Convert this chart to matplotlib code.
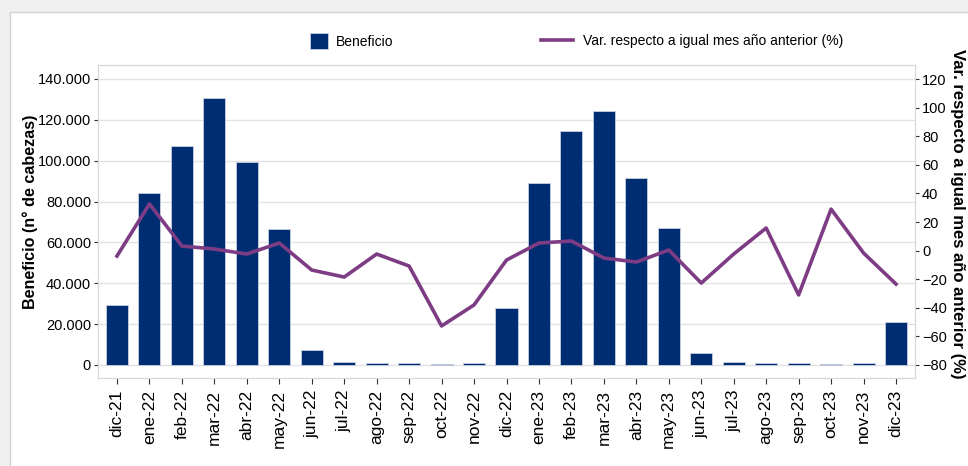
import matplotlib
matplotlib.use("Agg")
import matplotlib.pyplot as plt
from matplotlib.ticker import FuncFormatter, MultipleLocator
from matplotlib.patches import Rectangle
from matplotlib.lines import Line2D

plt.rcParams["font.family"] = ["Liberation Sans", "DejaVu Sans"]

months = ["dic-21", "ene-22", "feb-22", "mar-22", "abr-22", "may-22", "jun-22",
          "jul-22", "ago-22", "sep-22", "oct-22", "nov-22", "dic-22", "ene-23",
          "feb-23", "mar-23", "abr-23", "may-23", "jun-23", "jul-23", "ago-23",
          "sep-23", "oct-23", "nov-23", "dic-23"]
beneficio = [29400, 84200, 107300, 130700, 99400, 66600, 7300, 1500, 1000, 1200,
             400, 1200, 27900, 89100, 114500, 124300, 91500, 67000, 5900, 1300,
             1000, 800, 500, 1200, 21000]
variacion = [-3.8, 32.6, 3.2, 1.1, -2.4, 5.3, -13.6, -18.5, -2.4, -10.8,
             -52.7, -38.0, -6.6, 5.3, 6.7, -5.2, -8.0, 0.4, -22.7, -2.4,
             15.8, -31.0, 29.0, -1.7, -23.4]

BAR_COLOR = "#002d72"
LINE_COLOR = "#7d3c84"
GRID = "#e3e3e3"

fig = plt.figure(figsize=(9.68, 4.66), dpi=100, facecolor="#f0f0f0")
panel = Rectangle((10 / 968, -0.01), 1, 1.01 - 12 / 466, transform=fig.transFigure,
                  facecolor="white", edgecolor="#d4d4d4", linewidth=1, zorder=-10)
fig.add_artist(panel)

ax = fig.add_axes([98 / 968, 1 - 378 / 466, (915 - 98) / 968, (378 - 65) / 466])
ax.set_facecolor("none")
x = list(range(len(months)))
ax.bar(x, beneficio, width=0.68, color=BAR_COLOR, edgecolor="#c8d0e0", linewidth=0.6, zorder=2)
ax.set_xlim(-0.585, len(months) - 1 + 0.585)
ax.set_ylim(-6364, 146853)
ax.yaxis.set_major_locator(MultipleLocator(20000))
ax.yaxis.set_major_formatter(FuncFormatter(lambda v, p: f"{int(v):,}".replace(",", ".")))
ax.grid(axis="y", color=GRID, linewidth=1, zorder=0)
ax.set_axisbelow(True)
ax.set_xticks(x)
ax.set_xticklabels(months, rotation=90, fontsize=12.5)
ax.tick_params(axis="y", labelsize=10.5, length=3, color="#333333", pad=2)
ax.tick_params(axis="x", length=4.3, color="#333333", pad=4)
for s in ax.spines.values():
    s.set_color("#d9d9d9")
ax.set_ylabel("Beneficio (n° de cabezas)", fontsize=11.6, fontweight="bold", va="center")
ax.yaxis.set_label_coords((30 - 98) / 817, (378 - 211.5) / 313)

ax2 = ax.twinx()
ax2.plot(x, variacion, color=LINE_COLOR, linewidth=2.6, zorder=3)
ax2.set_ylim(-89.1, 129.8)
ax2.yaxis.set_major_locator(MultipleLocator(20))
ax2.tick_params(axis="y", labelsize=10.5, length=3, color="#333333", pad=2)
for s in ax2.spines.values():
    s.set_color("#d9d9d9")
ax2.set_ylabel("Var. respecto a igual mes año anterior (%)", fontsize=12,
               fontweight="bold", rotation=270, va="center")
ax2.yaxis.set_label_coords((957.5 - 98) / 817, (378 - 214) / 313)

leg_y = 1 - 41 / 466
fig.legend([Rectangle((0, 0), 1, 1, facecolor=BAR_COLOR, edgecolor="#c8d0e0", linewidth=0.6)],
           ["Beneficio"], loc="center left", bbox_to_anchor=(310 / 968, leg_y),
           frameon=False, fontsize=10, handlelength=1.3, handleheight=1.3,
           handletextpad=0.55, borderpad=0, borderaxespad=0)
fig.legend([Line2D([0], [0], color=LINE_COLOR, linewidth=2.6)],
           ["Var. respecto a igual mes año anterior (%)"], loc="center left",
           bbox_to_anchor=(541 / 968, leg_y), frameon=False, fontsize=10,
           handlelength=2.3, handletextpad=0.7, borderpad=0, borderaxespad=0)

fig.savefig("out.png", dpi=100, facecolor=fig.get_facecolor())
